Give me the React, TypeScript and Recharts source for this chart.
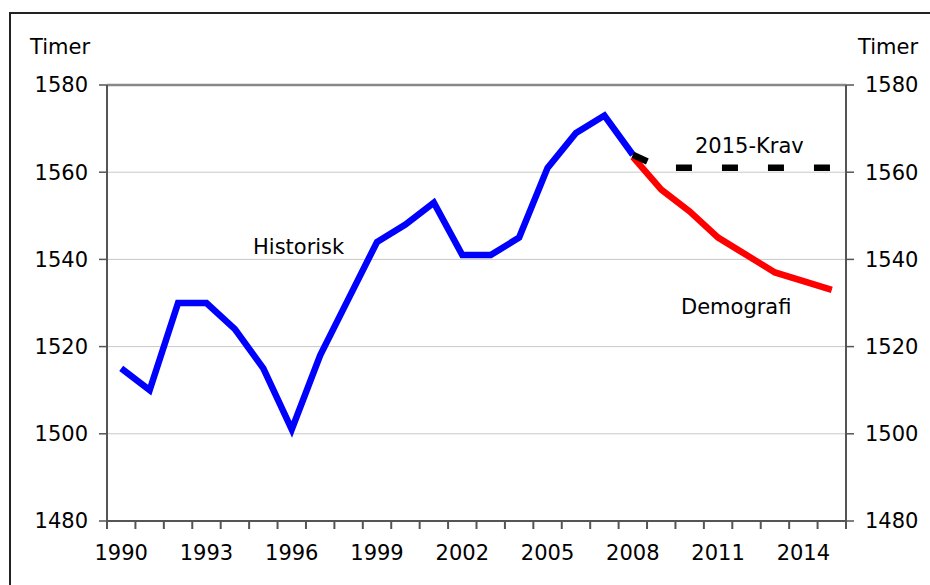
import React from "react";
import {
  LineChart,
  Line,
  XAxis,
  YAxis,
  CartesianGrid,
  ReferenceLine,
} from "recharts";

const years = [
  1990, 1991, 1992, 1993, 1994, 1995, 1996, 1997, 1998, 1999, 2000, 2001, 2002,
  2003, 2004, 2005, 2006, 2007, 2008, 2009, 2010, 2011, 2012, 2013, 2014, 2015,
];

// Historisk 1990-2008
const historisk = [
  1515, 1510, 1530, 1530, 1524, 1515, 1501, 1518, 1531, 1544, 1548, 1553, 1541,
  1541, 1545, 1561, 1569, 1573, 1564,
];
// Demografi 2008-2015
const demografi = [1563.5, 1556, 1551, 1545, 1541, 1537, 1535, 1533];
// 2015-Krav 2008-2015
const krav = [1564, 1561, 1561, 1561, 1561, 1561, 1561, 1561];

const labelYears = [1990, 1993, 1996, 1999, 2002, 2005, 2008, 2011, 2014];
const yTicks = [1480, 1500, 1520, 1540, 1560, 1580];

const forecastStart = 2008;

const data = years.map((year, i) => {
  const j = i - years.indexOf(forecastStart);
  return {
    year,
    historisk: i < historisk.length ? historisk[i] : null,
    demografi: j >= 0 ? demografi[j] : null,
    krav: j >= 0 ? krav[j] : null,
  };
});

// tick marks sit between the years, labels every third year
const boundaries = [...years.map((y) => y - 0.5), years[years.length - 1] + 0.5];
const xTicks = [...boundaries, ...labelYears];

const FONT = "'DejaVu Sans', Verdana, sans-serif";

const XTick = (props: any) => {
  const { x, y, payload } = props;
  const v = payload.value;
  if (!Number.isInteger(v)) {
    return <line x1={x} x2={x} y1={y} y2={y + 8} stroke="#555" strokeWidth={2} />;
  }
  return (
    <text x={x} y={y + 39} textAnchor="middle" fill="#000" fontSize={21} fontFamily={FONT}>
      {v}
    </text>
  );
};

const labelStyle: React.CSSProperties = {
  position: "absolute",
  fontSize: 21,
  fontFamily: FONT,
  color: "#000",
  lineHeight: "24px",
  whiteSpace: "nowrap",
};

export default function App() {
  return (
    <div
      style={{
        position: "fixed",
        left: 0,
        top: 0,
        width: 930,
        height: 585,
        overflow: "hidden",
        background: "#fff",
        fontFamily: FONT,
      }}
    >
      <style>{`html, body { margin: 0; overflow: hidden; }`}</style>
      <svg width={930} height={585} style={{ position: "absolute", left: 0, top: 0 }}>
        <path d="M10 585 V13 H930" fill="none" stroke="#222" strokeWidth={2} />
      </svg>
      <div style={{ position: "absolute", left: 0, top: 0 }}>
        <LineChart
          width={930}
          height={585}
          data={data}
          margin={{ top: 85, right: 0, left: 0, bottom: 24 }}
        >
          <CartesianGrid yAxisId="left" horizontal vertical={false} stroke="#c8c8c8" />
          <XAxis
            dataKey="year"
            type="number"
            domain={[1989.5, 2015.5]}
            ticks={xTicks}
            interval={0}
            tickLine={false}
            tickSize={0}
            tickMargin={0}
            axisLine={{ stroke: "#555", strokeWidth: 2 }}
            tick={<XTick />}
            height={40}
          />
          <YAxis
            yAxisId="left"
            orientation="left"
            width={107}
            domain={[1480, 1580]}
            ticks={yTicks}
            interval={0}
            tickSize={8}
            tickMargin={11}
            axisLine={{ stroke: "#555", strokeWidth: 2 }}
            tickLine={{ stroke: "#555", strokeWidth: 1.5 }}
            tick={{ fill: "#000", fontSize: 21, fontFamily: FONT }}
          />
          <YAxis
            yAxisId="right"
            orientation="right"
            width={84}
            domain={[1480, 1580]}
            ticks={yTicks}
            interval={0}
            tickSize={8}
            tickMargin={11}
            axisLine={{ stroke: "#555", strokeWidth: 2 }}
            tickLine={{ stroke: "#555", strokeWidth: 1.5 }}
            tick={{ fill: "#000", fontSize: 21, fontFamily: FONT }}
          />
          <ReferenceLine yAxisId="left" y={1580} stroke="#888" strokeWidth={2.5} />
          <Line yAxisId="left" dataKey="historisk" stroke="#0000ff" strokeWidth={6.5} dot={false} isAnimationActive={false} type="linear" />
          <Line yAxisId="left" dataKey="demografi" stroke="#ff0000" strokeWidth={6.5} dot={false} isAnimationActive={false} type="linear" />
          <Line yAxisId="right" dataKey="krav" stroke="#000" strokeWidth={6.5} strokeDasharray="16 30" dot={false} isAnimationActive={false} type="linear" />
        </LineChart>
      </div>
      <div style={{ ...labelStyle, left: 30, top: 35 }}>Timer</div>
      <div style={{ ...labelStyle, left: 858, top: 35 }}>Timer</div>
      <div style={{ ...labelStyle, left: 253, top: 235 }}>Historisk</div>
      <div style={{ ...labelStyle, left: 695, top: 134 }}>2015-Krav</div>
      <div style={{ ...labelStyle, left: 681, top: 295 }}>Demografi</div>
    </div>
  );
}
